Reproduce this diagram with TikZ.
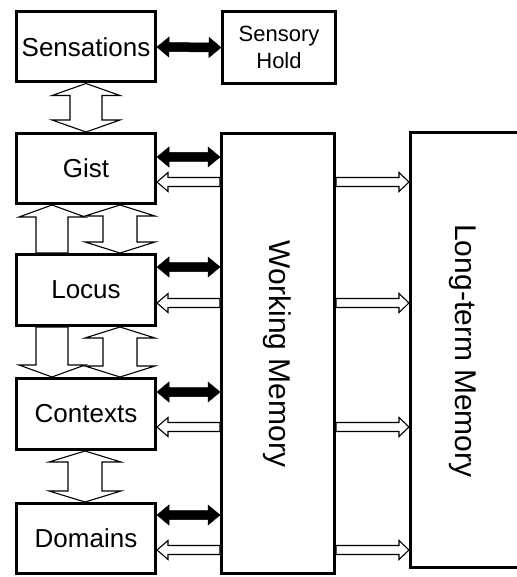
\documentclass[tikz,border=0pt]{standalone}
\usepackage{fontspec}
\setmainfont{Liberation Sans}
\usetikzlibrary{calc}

% block arrows: style, tail, tip, shaft half width, head half width, head length
\newcommand{\onewayarrow}[6]{%
  \path (#2) coordinate (ta) (#3) coordinate (tb);
  \coordinate (hb) at ($(tb)!#6!(ta)$);
  \draw[#1] ($(ta)!#4!90:(tb)$) -- ($(hb)!#4!-90:(ta)$) -- ($(hb)!#5!-90:(ta)$)
    -- (tb) -- ($(hb)!#5!90:(ta)$) -- ($(hb)!#4!90:(ta)$) -- ($(ta)!#4!-90:(tb)$) -- cycle;
}
\newcommand{\twowayarrow}[6]{%
  \path (#2) coordinate (ta) (#3) coordinate (tb);
  \coordinate (ha) at ($(ta)!#6!(tb)$);
  \coordinate (hb) at ($(tb)!#6!(ta)$);
  \draw[#1] (ta) -- ($(ha)!#5!90:(tb)$) -- ($(ha)!#4!90:(tb)$) -- ($(hb)!#4!-90:(ta)$)
    -- ($(hb)!#5!-90:(ta)$) -- (tb) -- ($(hb)!#5!90:(ta)$) -- ($(hb)!#4!90:(ta)$)
    -- ($(ha)!#4!-90:(tb)$) -- ($(ha)!#5!-90:(tb)$) -- cycle;
}

\tikzset{
  stagebox/.style={draw, line width=3pt, inner sep=0pt, minimum width=139pt,
    minimum height=70pt, font=\fontsize{26}{31}\selectfont},
  memorybox/.style={draw, line width=3pt, inner sep=0pt},
  memorytext/.style={rotate=-90, font=\fontsize{30}{36}\selectfont},
  solidarrow/.style={fill=black, draw=black, line width=0.5pt},
  hollowarrow/.style={fill=white, draw=black, line width=1.1pt, line join=miter}
}

\begin{document}
\begin{tikzpicture}[x=1pt,y=-1pt]
  \useasboundingbox (0,0) rectangle (516,577);
  % stages
  \node[stagebox] (sens) at (86,47) {Sensations};
  \node[stagebox, minimum width=113pt, minimum height=72pt, align=center,
    font=\fontsize{22}{27}\selectfont] (hold) at (279,47.5) {Sensory\\Hold};
  \node[stagebox] (gist) at (86,168.5) {Gist};
  \node[stagebox, minimum height=71pt] (locus) at (86,290) {Locus};
  \node[stagebox, minimum height=71pt] (ctx) at (86,414) {Contexts};
  \node[stagebox] (dom) at (86,538.5) {Domains};
  % memories
  \node[memorybox, minimum width=113pt, minimum height=440pt] (wm) at (278,353.5) {};
  \node[memorytext] (wmtext) at (277,354) {Working Memory};
  \node[memorybox, minimum width=118pt, minimum height=435pt] (ltm) at (469.5,350) {};
  \node[memorytext] (ltmtext) at (463,351) {Long-term Memory};

  \twowayarrow{solidarrow}{sens.east}{hold.west}{4.5pt}{10pt}{12pt}
  % between the stages
  \twowayarrow{hollowarrow}{sens.south}{gist.north}{16pt}{34pt}{12pt}
  \onewayarrow{hollowarrow}{[xshift=-34pt]locus.north}{[xshift=-34pt]gist.south}{16pt}{33pt}{12pt}
  \twowayarrow{hollowarrow}{[xshift=34pt]gist.south}{[xshift=34pt]locus.north}{17pt}{35pt}{11pt}
  \onewayarrow{hollowarrow}{[xshift=-34pt]locus.south}{[xshift=-34pt]ctx.north}{16pt}{33pt}{12pt}
  \twowayarrow{hollowarrow}{[xshift=34pt]locus.south}{[xshift=34pt]ctx.north}{17pt}{35pt}{11pt}
  \twowayarrow{hollowarrow}{[xshift=-1pt]ctx.south}{[xshift=-1pt]dom.north}{17pt}{36pt}{11pt}
  % to and from the memories
  \foreach \n/\ya/\yb in {gist/157/182, locus/267/303, ctx/392/427, dom/515/550} {
    \coordinate (a) at (0,\ya);
    \coordinate (b) at (0,\yb);
    \twowayarrow{solidarrow}{\n.east |- a}{wm.west |- a}{4.5pt}{10pt}{12pt}
    \onewayarrow{hollowarrow}{wm.west |- b}{\n.east |- b}{4.5pt}{9.5pt}{11pt}
    \onewayarrow{hollowarrow}{wm.east |- b}{ltm.west |- b}{4.5pt}{9.5pt}{10pt}
  }
\end{tikzpicture}
\end{document}
